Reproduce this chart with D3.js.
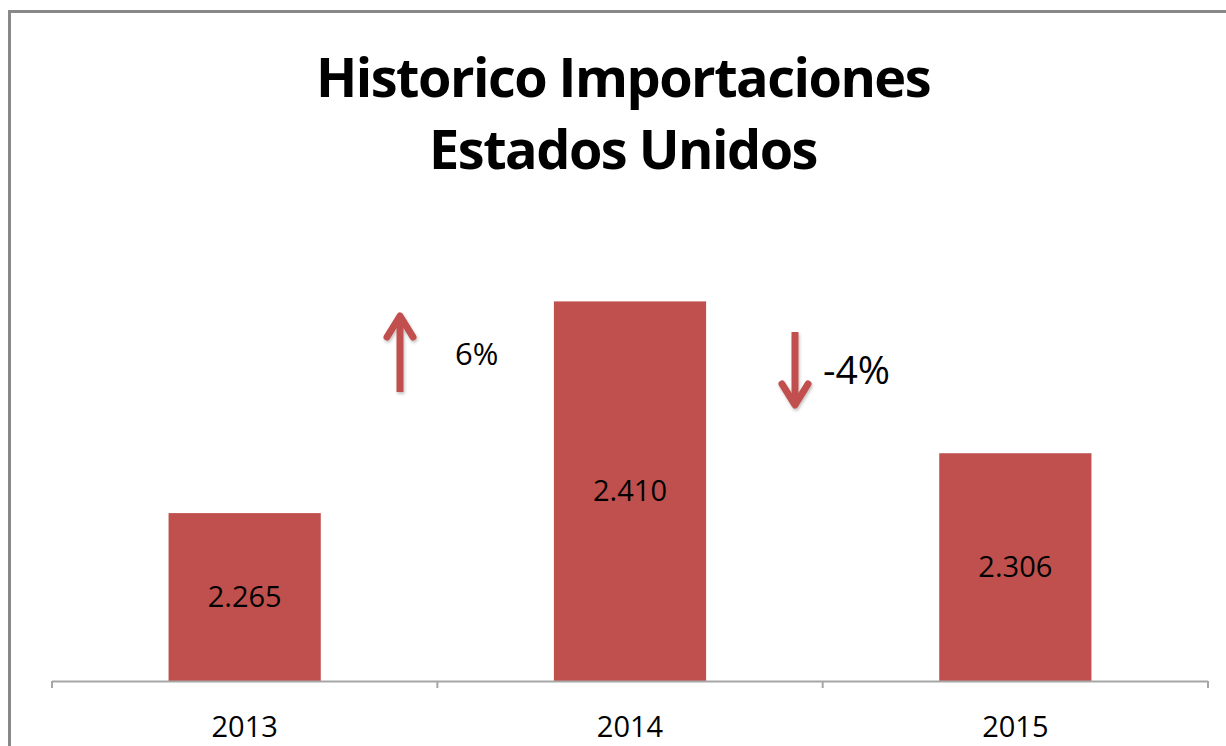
<!DOCTYPE html>
<html>
<head>
<meta charset="utf-8">
<script src="https://d3js.org/d3.v7.min.js"></script>
<style>
  body { margin: 0; background: #fff; }
  text { font-family: "Open Sans", sans-serif; fill: #000; }
</style>
</head>
<body>
<svg id="chart" width="1226" height="746"></svg>
<script>
// data
const years = ["2013", "2014", "2015"];
const values = [2265, 2410, 2306];
const valueLabels = ["2.265", "2.410", "2.306"];
const changeLabels = ["6%", "-4%"];
const changeDir = ["up", "down"];
const titleLines = ["Historico Importaciones", "Estados Unidos"];

const svg = d3.select("#chart");
const red = "#c0504d";

// outer frame (only top and left edges are visible in the crop)
svg.append("path")
    .attr("d", "M9.5,760 V11.5 H1240")
    .attr("fill", "none")
    .attr("stroke", "#888")
    .attr("stroke-width", 3);

// scales
const x = d3.scaleBand().domain(years).range([52, 1208])
    .paddingInner(0.605).paddingOuter(0.3025);
const y = d3.scaleLinear().domain([2150, 2450]).range([681, 243]);

// title
const title = svg.append("g");
titleLines.forEach((t, i) => {
    title.append("text")
        .attr("x", 623)
        .attr("y", 97 + i * 72)
        .attr("text-anchor", "middle")
        .style("font-weight", "bold")
        .style("font-size", "54px")
        .style("letter-spacing", "-1.5px")
        .text(t);
});

// bars
const data = years.map((yr, i) => ({year: yr, value: values[i], label: valueLabels[i]}));
svg.append("g").selectAll("rect")
    .data(data)
    .join("rect")
    .attr("x", d => x(d.year))
    .attr("y", d => y(d.value))
    .attr("width", x.bandwidth())
    .attr("height", d => y.range()[0] - y(d.value))
    .attr("fill", red);

svg.append("g").selectAll("text")
    .data(data)
    .join("text")
    .attr("x", d => x(d.year) + x.bandwidth() / 2)
    .attr("y", d => (y(d.value) + y.range()[0]) / 2)
    .attr("dy", "0.35em")
    .attr("text-anchor", "middle")
    .style("font-size", "29px")
    .text(d => d.label);

// axis: line with ticks at category boundaries
const axis = svg.append("g");
const x0 = x.range()[0], x1 = x.range()[1];
axis.append("line")
    .attr("x1", x0).attr("x2", x1)
    .attr("y1", 681.5).attr("y2", 681.5)
    .attr("stroke", "#a6a6a6").attr("stroke-width", 2);
d3.range(years.length + 1).forEach(i => {
    const tx = x0 + i * (x1 - x0) / years.length;
    axis.append("line")
        .attr("x1", tx).attr("x2", tx)
        .attr("y1", 681).attr("y2", 688)
        .attr("stroke", "#a6a6a6").attr("stroke-width", 2);
});
axis.selectAll("text.year")
    .data(years)
    .join("text")
    .attr("class", "year")
    .attr("x", d => x(d) + x.bandwidth() / 2)
    .attr("y", 737)
    .attr("text-anchor", "middle")
    .style("font-size", "29px")
    .text(d => d);

// change arrows
const defs = svg.append("defs");
const f = defs.append("filter").attr("id", "shadow").attr("x", "-50%").attr("y", "-50%")
    .attr("width", "200%").attr("height", "200%");
f.append("feDropShadow").attr("dx", 1).attr("dy", 2).attr("stdDeviation", 1.5)
    .attr("flood-color", "#000").attr("flood-opacity", 0.25);

const arrowX = [400, 795];
const arrowTop = [313, 332];
const arrowBot = [392, 408];
const labelX = [455, 823];
const labelY = [365, 384];
const labelSize = [31, 39];

changeDir.forEach((dir, i) => {
    const ax = arrowX[i];
    const tipY = dir === "up" ? arrowTop[i] : arrowBot[i];
    const tailY = dir === "up" ? arrowBot[i] : arrowTop[i];
    const s = dir === "up" ? 1 : -1;
    const g = svg.append("g").attr("filter", "url(#shadow)")
        .attr("stroke", red).attr("stroke-width", 7)
        .attr("stroke-linecap", "round").attr("stroke-linejoin", "round")
        .attr("fill", "none");
    g.append("path").attr("d", `M${ax},${tailY} V${tipY + s * 3}`).attr("stroke-linecap", "butt");
    g.append("path").attr("d", `M${ax - 13},${tipY + s * 24} L${ax},${tipY + s * 3} L${ax + 13},${tipY + s * 24}`);

    svg.append("text")
        .attr("x", labelX[i])
        .attr("y", labelY[i])
        .style("font-size", labelSize[i] + "px")
        .text(changeLabels[i]);
});
</script>
</body>
</html>
